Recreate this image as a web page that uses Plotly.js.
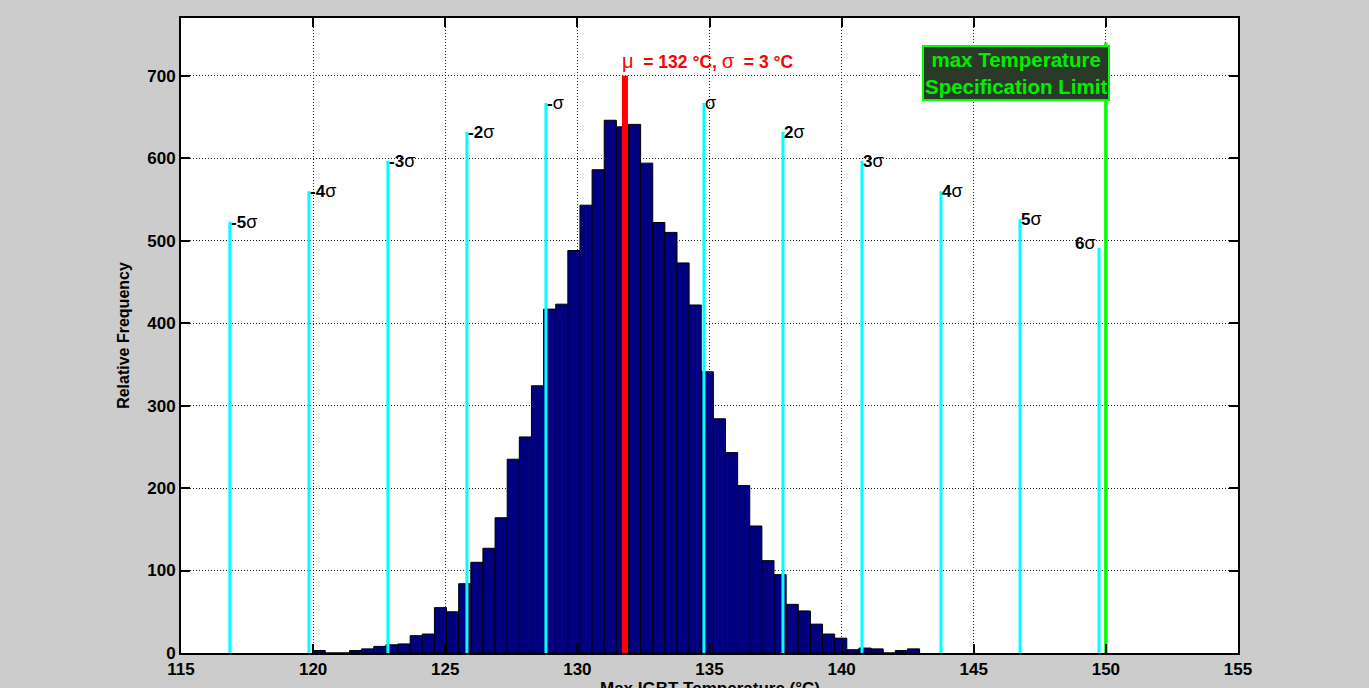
<!DOCTYPE html>
<html>
<head>
<meta charset="utf-8">
<script src="https://cdn.plot.ly/plotly-3.0.1.min.js"></script>
<style>html,body{margin:0;padding:0;background:#cccccc;}#chart{width:1369px;height:688px;}</style>
</head>
<body>
<div id="chart"></div>
<script>
// ---- data ----
const binStart = 120.0;
const binWidth = 0.459;
const binCounts = [3,0,0,3,5,8,10,11,21,23,55,50,84,110,127,164,235,262,324,417,
  423,488,543,586,646,638,641,594,522,510,473,422,341,284,243,203,154,112,95,59,
  51,35,23,18,4,6,5,0,3,5];
const mu = 131.8;
const sigma = 2.99;
const sigmaMultipliers = [-5,-4,-3,-2,-1,1,2,3,4,5,6];
const sigmaLineHeights = [523,560,597,632,667,667,632,597,560,526,491];
const sigmaLabels = ['-5σ','-4σ','-3σ','-2σ','-σ','σ','2σ','3σ','4σ','5σ','6σ'];
const meanLineHeight = 700;
const specLimit = 150;
const specLineHeight = 740;
const xTicks = [115,120,125,130,135,140,145,150,155];
const yTicks = [0,100,200,300,400,500,600,700];

// ---- build ----
const binCenters = binCounts.map((_, i) => binStart + binWidth * (i + 0.5));
const traces = [];
traces.push({
  type: 'bar', x: binCenters, y: binCounts, width: binWidth,
  marker: {color: '#000080', line: {color: '#000000', width: 1}},
  hoverinfo: 'x+y'
});
const sx = [], sy = [];
sigmaMultipliers.forEach((k, i) => {
  const xv = mu + k * sigma;
  sx.push(xv, xv, null); sy.push(0, sigmaLineHeights[i], null);
});
traces.push({type: 'scatter', mode: 'lines', x: sx, y: sy,
  line: {color: '#00ffff', width: 3}, hoverinfo: 'skip'});
traces.push({type: 'scatter', mode: 'lines', x: [mu, mu], y: [0, meanLineHeight],
  line: {color: '#ff0000', width: 6}, hoverinfo: 'skip'});
traces.push({type: 'scatter', mode: 'lines', x: [specLimit, specLimit], y: [0, specLineHeight],
  line: {color: '#00ff00', width: 3.5}, hoverinfo: 'skip'});

const FONT = 'Liberation Sans, Arial, Helvetica, sans-serif';
const annotations = sigmaMultipliers.map((k, i) => {
  const last = k === 6;
  const lab = sigmaLabels[i];
  const num = lab.replace('σ', '');
  return {
    x: mu + k * sigma, y: sigmaLineHeights[i], xref: 'x', yref: 'y',
    text: (num ? '<b>' + num + '</b>' : '') + '<span style="font-size:18px">σ</span>',
    showarrow: false, xanchor: last ? 'right' : 'left', yanchor: 'middle',
    xshift: -1, yshift: last ? 5 : 0,
    font: {family: FONT, size: 17, color: '#000000'}
  };
});
annotations.push({
  x: mu, y: meanLineHeight, xref: 'x', yref: 'y', xanchor: 'left', yanchor: 'bottom',
  xshift: -5, yshift: 2, showarrow: false,
  text: '<span style="font-size:20px">μ</span><b>  = 132 °C, </b><span style="font-size:20px">σ</span><b>  = 3 °C</b>',
  font: {family: FONT, size: 17.5, color: '#ff0000'}
});
annotations.push({
  x: specLimit, y: 1, xref: 'x', yref: 'paper', xanchor: 'right', yanchor: 'top',
  xshift: 4, yshift: -27, showarrow: false,
  text: '<b>max Temperature<br>Specification Limit</b>',
  font: {family: FONT, size: 20.5, color: '#00ee00'},
  bgcolor: '#2b3a28', bordercolor: '#00ff00', borderwidth: 2, borderpad: 1
});
// x-axis title (sits partly below the visible page, as in the reference)
annotations.push({
  x: 0.5, y: 0, xref: 'paper', yref: 'paper', xanchor: 'center', yanchor: 'top',
  yshift: -24, showarrow: false,
  text: '<b>Max IGBT Temperature (°C)</b>',
  font: {family: FONT, size: 17, color: '#000000'}
});

const axisCommon = {
  showline: true, linecolor: '#000000', linewidth: 2, mirror: 'allticks',
  ticks: 'inside', ticklen: 9, tickwidth: 2, tickcolor: '#000000',
  showgrid: true, gridcolor: '#222222', griddash: '1px,2px', gridwidth: 1,
  zeroline: false, tickfont: {family: FONT, size: 17, color: '#000000', weight: 'bold'}
};
const layout = {
  width: 1369, height: 688,
  paper_bgcolor: '#cccccc', plot_bgcolor: '#ffffff',
  margin: {l: 181, r: 131, t: 18, b: 35},
  showlegend: false, bargap: 0,
  xaxis: Object.assign({}, axisCommon, {
    range: [115, 155], tickvals: xTicks, ticktext: xTicks.map(String),
    automargin: false
  }),
  yaxis: Object.assign({}, axisCommon, {
    range: [0, 770], tickvals: yTicks, ticktext: yTicks.map(String),
    automargin: false,
    title: {text: '<b>Relative Frequency</b>', standoff: 14,
      font: {family: FONT, size: 16, color: '#000000'}}
  }),
  annotations: annotations
};
Plotly.newPlot('chart', traces, layout, {displayModeBar: false, staticPlot: true});
</script>
</body>
</html>
